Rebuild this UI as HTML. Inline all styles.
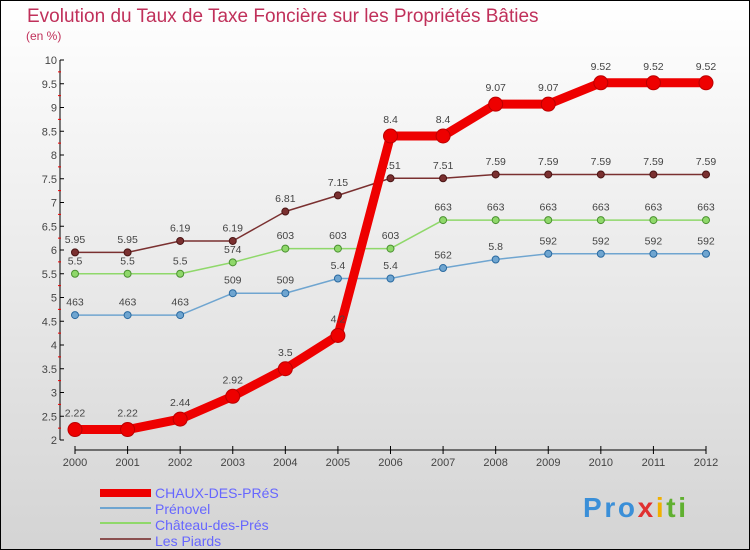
<!DOCTYPE html>
<html><head><meta charset="utf-8"><style>
body{margin:0;width:750px;height:550px;overflow:hidden}
svg{display:block;font-family:"Liberation Sans",sans-serif}
</style></head><body>
<svg width="750" height="550" id="c">
<defs><linearGradient id="bg" x1="0" y1="0" x2="0" y2="1"><stop offset="0" stop-color="#ffffff"/><stop offset="1" stop-color="#d4d4d4"/></linearGradient></defs>
<rect x="0.5" y="0.5" width="749" height="549" fill="url(#bg)" stroke="#000"/>
<text x="27" y="22" font-size="19" fill="#c0305a">Evolution du Taux de Taxe Foncière sur les Propriétés Bâties</text>
<text x="26" y="40" font-size="12" fill="#c0305a">(en %)</text>
<g id="axes"></g><g id="series"></g>
<g>
<rect x="100" y="489" width="51" height="8" fill="#ee0000"/>
<text x="155" y="498" font-size="14" fill="#6666ff">CHAUX-DES-PRéS</text>
<rect x="100" y="507" width="51" height="2" fill="#6fa5d0"/>
<text x="155" y="514" font-size="14" fill="#6666ff">Prénovel</text>
<rect x="100" y="522" width="51" height="2" fill="#8fd86a"/>
<text x="155" y="530" font-size="14" fill="#6666ff">Château-des-Prés</text>
<rect x="100" y="538" width="51" height="2" fill="#8a5050"/>
<text x="155" y="546" font-size="14" fill="#6666ff">Les Piards</text>
</g>
<g font-size="28" font-weight="bold">
<text x="583" y="517" textLength="103"><tspan fill="#3a8fd8">Pro</tspan><tspan fill="#e03030">x</tspan><tspan fill="#f0b000">i</tspan><tspan fill="#60b030">ti</tspan></text>
</g>
</svg>
<script>
const years=[2000,2001,2002,2003,2004,2005,2006,2007,2008,2009,2010,2011,2012];
const yTicks=[2,2.5,3,3.5,4,4.5,5,5.5,6,6.5,7,7.5,8,8.5,9,9.5,10];
const chaux=[2.22,2.22,2.44,2.92,3.5,4.2,8.4,8.4,9.07,9.07,9.52,9.52,9.52];
const prenovel=[4.63,4.63,4.63,5.09,5.09,5.4,5.4,5.62,5.8,5.92,5.92,5.92,5.92];
const chateau=[5.5,5.5,5.5,5.74,6.03,6.03,6.03,6.63,6.63,6.63,6.63,6.63,6.63];
const piards=[5.95,5.95,6.19,6.19,6.81,7.15,7.51,7.51,7.59,7.59,7.59,7.59,7.59];
const chauxLbl=["2.22","2.22","2.44","2.92","3.5","4.2","8.4","8.4","9.07","9.07","9.52","9.52","9.52"];
const NS="http://www.w3.org/2000/svg";
const X=i=>75+i*(706-75)/(years.length-1);
const Y=v=>440-(v-2)*47.5;
function mk(t,a,p){const e=document.createElementNS(NS,t);for(const k in a)e.setAttribute(k,a[k]);p.appendChild(e);return e;}
const ax=document.getElementById('axes'),sg=document.getElementById('series');
let l=mk('line',{x1:60,y1:Y(10),x2:60,y2:Y(2),stroke:'#000'},ax);


yTicks.forEach(v=>{
 mk('line',{x1:60,x2:64,y1:Y(v),y2:Y(v),stroke:'#000'},ax);
 if(v<10) mk('line',{x1:58,x2:61,y1:Y(v+0.25),y2:Y(v+0.25),stroke:'#e00'},ax);
 const t=mk('text',{x:57,y:Y(v)+4,'text-anchor':'end','font-size':11,fill:'#444'},ax);t.textContent=v;
 
 
});
l=mk('line',{x1:X(0),y1:450,x2:X(12),y2:450,stroke:'#000'},ax);


years.forEach((y,i)=>{
 mk('line',{x1:X(i),x2:X(i),y1:446,y2:454,stroke:'#000'},ax);
 const t=mk('text',{x:X(i),y:466,'text-anchor':'middle','font-size':11,fill:'#444'},ax);t.textContent=y;
 
 
});
function series(d,name,col,dark,w,r,lbl){
 const g=mk('g',{},sg);
 
 
 const p=mk('polyline',{points:d.map((v,i)=>X(i)+','+Y(v)).join(' '),fill:'none',stroke:col,'stroke-width':w,'stroke-linejoin':'round'},g);
 
 
 d.forEach((v,i)=>{
  const c=mk('circle',{cx:X(i),cy:Y(v),r:r,fill:col,stroke:dark,'stroke-width':1},g);
  
  
  const t=mk('text',{x:X(i),y:Y(v)-(r+6),'text-anchor':'middle','font-size':10.5,fill:'#444'},g);
  t.textContent=lbl?lbl[i]:String(v);
  
  
 });
}
const fmt=a=>a.map(v=>{let s=String(v);return /\.\d\d$/.test(s)&&s.length>3?s.replace('.',''):s;});
series(piards,'les-piards','#7a3030','#4a1515',1.5,3.5,piards.map(String));
series(chateau,'chateau-des-pres','#8fd86a','#4a9030',1.5,3.5,fmt(chateau));
series(prenovel,'prenovel','#6fa5d0','#2a6aa0',1.5,3.5,fmt(prenovel));
series(chaux,'chaux-des-pres','#ee0000','#bb0000',9,7,chauxLbl);
</script>
</body></html>
